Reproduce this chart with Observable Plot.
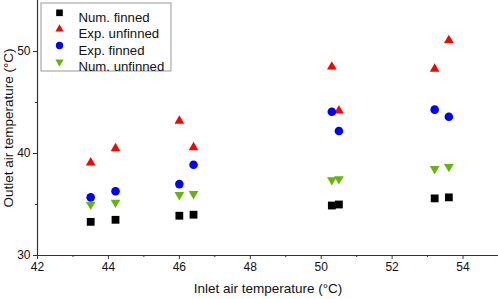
<!DOCTYPE html>
<html><head><meta charset="utf-8">
<script src="https://cdn.jsdelivr.net/npm/d3@7"></script>
<script src="https://cdn.jsdelivr.net/npm/@observablehq/plot@0.6"></script>
<style>html,body{margin:0;padding:0;background:#fff} svg{display:block}</style>
</head><body><div id="chart"></div>
<script>
const inlet = [43.5, 44.2, 46.0, 46.4, 50.3, 50.5, 53.2, 53.6];
const numFinned = [33.3, 33.5, 33.9, 34.0, 34.9, 35.0, 35.6, 35.7];
const expUnfinned = [39.1, 40.5, 43.2, 40.6, 48.5, 44.2, 48.3, 51.1];
const expFinned = [35.7, 36.3, 37.0, 38.9, 44.1, 42.2, 44.3, 43.6];
const numUnfinned = [35.0, 35.2, 35.95, 36.05, 37.4, 37.5, 38.5, 38.7];

const seriesNames = ["Num. finned", "Exp. unfinned", "Exp. finned", "Num. unfinned"];
const seriesValues = [numFinned, expUnfinned, expFinned, numUnfinned];
const colors = ["#000000", "#ff0000", "#0000ff", "#66b40e"];
const symbols = ["square", "triangle", "circle", "triangle"];
const rotations = [0, 0, 0, 180];
const radii = [4.4, 3.6, 4.3, 3.6];

const xMajor = [42, 44, 46, 48, 50, 52, 54];
const xMinor = [43, 45, 47, 49, 51, 53];
const yMajor = [30, 40, 50];
const yMinor = [35, 45];

const font = "Liberation Sans, Arial, Helvetica, sans-serif";
const ink = "#111";

const marks = [];
seriesValues.forEach((vals, i) => {
  const data = inlet.map((x, j) => ({x, y: vals[j]}));
  marks.push(Plot.dot(data, {x: "x", y: "y", symbol: symbols[i], fill: colors[i], r: radii[i], rotate: rotations[i], stroke: "none"}));
});

// axes
marks.push(Plot.ruleY([30], {stroke: "#333", strokeWidth: 1.2}));
marks.push(Plot.ruleX([42], {stroke: "#333", strokeWidth: 1.2}));
marks.push(Plot.axisX(xMajor, {tickSize: 4, tickPadding: 3, fontSize: 12, label: null, stroke: "#333", fill: ink, tickFormat: d => d}));
marks.push(Plot.axisX(xMinor, {tickSize: 2, text: null, label: null, stroke: "#333"}));
marks.push(Plot.axisY(yMajor, {tickSize: 4, tickPadding: 3, fontSize: 12, label: null, stroke: "#333", fill: ink, tickFormat: d => d}));
marks.push(Plot.axisY(yMinor, {tickSize: 2, text: null, label: null, stroke: "#333"}));

// axis titles
marks.push(Plot.text(["Inlet air temperature (°C)"], {frameAnchor: "bottom", dy: 37, fontSize: 13.5, fill: ink, textAnchor: "middle"}));
marks.push(Plot.text(["Outlet air temperature (°C)"], {frameAnchor: "left", dx: -29, rotate: -90, fontSize: 13.5, fill: ink, textAnchor: "middle"}));

// legend
marks.push(Plot.rect([0], {insetLeft: 4, insetTop: 3, insetRight: 327, insetBottom: 184, fill: "white", stroke: "#999", strokeWidth: 1}));
const rowY = [12.3, 28.6, 45, 61.5];
seriesNames.forEach((name, i) => {
  marks.push(Plot.dot([name], {frameAnchor: "top-left", dx: 22, dy: rowY[i], symbol: symbols[i], fill: colors[i], r: radii[i] * 0.85, rotate: rotations[i], stroke: "none"}));
  marks.push(Plot.text([name], {frameAnchor: "top-left", dx: 41, dy: rowY[i], text: d => d, textAnchor: "start", fontSize: 13.2, fill: ink}));
});

const chart = Plot.plot({
  width: 498,
  height: 299,
  marginLeft: 37,
  marginRight: 0,
  marginTop: 0,
  marginBottom: 44,
  style: {fontFamily: font, background: "white", color: ink},
  x: {domain: [42, 55]},
  y: {domain: [30, 55]},
  marks
});
document.getElementById("chart").appendChild(chart);
</script>
</body></html>
